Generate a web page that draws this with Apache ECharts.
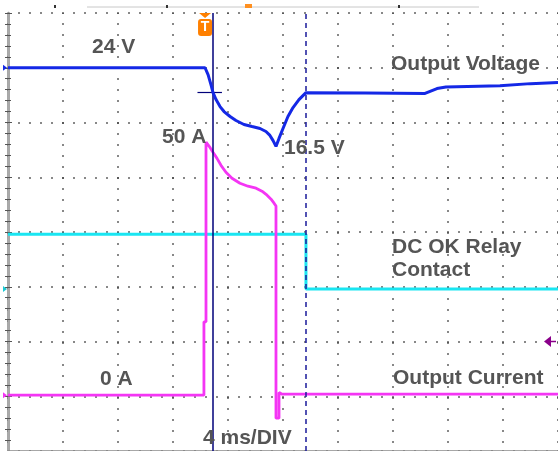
<!DOCTYPE html>
<html>
<head>
<meta charset="utf-8">
<script src="https://cdn.jsdelivr.net/npm/echarts@6/dist/echarts.min.js"></script>
<style>
html,body{margin:0;padding:0;background:#fff;}
#chart{width:558px;height:451px;}
</style>
</head>
<body>
<div id="chart"></div>
<script>
// Time axis: 10 divisions x 4 ms/DIV (ms). Vertical positions in screen divisions (0 = bottom, 8 = top).
const timeTicks = [0, 4, 8, 12, 16, 20, 24, 28, 32, 36, 40];

// Output Voltage trace (blue)
const voltT   = [0, 14.33, 14.55, 14.76, 14.91, 15.13, 15.42, 15.71, 16.15, 16.58, 17.16, 17.75, 18.33, 18.76, 19.05, 19.27, 19.49, 19.71, 20.0, 20.36, 20.73, 21.16, 21.67, 26.0, 30.33, 31.2, 31.85, 35.78, 38.0, 40.0];
const voltDiv = [7.0, 7.0, 6.873, 6.691, 6.545, 6.418, 6.291, 6.2, 6.109, 6.036, 5.964, 5.927, 5.891, 5.836, 5.764, 5.673, 5.564, 5.709, 5.891, 6.109, 6.273, 6.418, 6.545, 6.54, 6.53, 6.62, 6.65, 6.67, 6.71, 6.73];

// Output Current trace (magenta)
const currT   = [0, 14.25, 14.25, 14.40, 14.40, 14.47, 14.69, 14.91, 15.2, 15.49, 15.85, 16.29, 16.87, 17.45, 18.04, 18.47, 18.84, 19.13, 19.35, 19.49, 19.49, 19.71, 19.71, 19.9, 40.0];
const currDiv = [1.02, 1.02, 2.36, 2.36, 5.64, 5.655, 5.545, 5.455, 5.345, 5.218, 5.091, 4.982, 4.891, 4.836, 4.8, 4.745, 4.673, 4.6, 4.527, 4.473, 0.6, 0.6, 1.07, 1.04, 1.04];

// DC OK Relay Contact trace (cyan)
const relayT   = [0, 21.67, 21.67, 40.0];
const relayDiv = [3.96, 3.96, 2.96, 2.96];

// Cursors / markers
const cursorSolidT = 14.91;
const cursorDashT = 21.67;
const triggerT = 14.33;
const cursorLevel = 6.545;
const refLevels = { volt: 7.0, relay: 2.96, curr: 1.02 };
const triggerLevel = 2.0;

// Annotations [text, x, y]
const annotations = [
  ['24 V', 92, 47.5],
  ['Output Voltage', 391, 64.5],
  ['50 A', 162, 137.5],
  ['16.5 V', 284, 148.5],
  ['DC OK Relay', 392, 247.5],
  ['Contact', 392, 270.5],
  ['0 A', 100, 379],
  ['Output Current', 393, 378.5],
  ['4 ms/DIV', 203, 438.5]
];

const pairs = (xs, ys) => xs.map((x, i) => [x, ys[i]]);

const chart = echarts.init(document.getElementById('chart'), null, {renderer: 'canvas'});

const dotted = {color: '#3a3a3a', width: 1.6, type: [1.6, 9.4], dashOffset: 0.8};
const frameColor = '#8a8a8a';

const option = {
  animation: false,
  backgroundColor: '#ffffff',
  grid: {left: 8, top: 13, width: 550, height: 440, containLabel: false},
  xAxis: [
    {type: 'value', min: 0, max: 40, interval: 4, position: 'bottom',
     axisLine: {show: false}, axisTick: {show: false}, axisLabel: {show: false},
     splitLine: {show: true, lineStyle: dotted}},
    {type: 'value', min: 0, max: 40, interval: 4, position: 'top',
     axisLine: {show: true, lineStyle: {color: frameColor, width: 2.5}},
     axisTick: {show: true, inside: true, length: 4, lineStyle: {color: '#555', width: 1}},
     minorTick: {show: true, splitNumber: 5, length: 3, lineStyle: {color: '#555', width: 1}},
     axisLabel: {show: false}, splitLine: {show: false}}
  ],
  yAxis: [
    {type: 'value', min: 0, max: 8, interval: 1, position: 'left',
     axisLine: {show: true, lineStyle: {color: frameColor, width: 2.5}},
     axisTick: {show: true, inside: true, length: 4, lineStyle: {color: '#555', width: 1}},
     minorTick: {show: true, splitNumber: 5, length: 3, lineStyle: {color: '#555', width: 1}},
     axisLabel: {show: false},
     splitLine: {show: true, lineStyle: dotted}},
    {type: 'value', min: 0, max: 8, interval: 1, position: 'right',
     axisLine: {show: true, lineStyle: {color: '#aaaaaa', width: 1}},
     axisTick: {show: true, inside: true, length: 3, lineStyle: {color: '#555', width: 1}},
     minorTick: {show: true, splitNumber: 5, length: 3, lineStyle: {color: '#555', width: 1}},
     axisLabel: {show: false}, splitLine: {show: false}}
  ],
  series: [
    {name: 'DC OK Relay Contact', type: 'line', data: pairs(relayT, relayDiv), showSymbol: false,
     lineStyle: {color: '#19e6f2', width: 3}, z: 3},
    {name: 'Output Current', type: 'line', data: pairs(currT, currDiv), showSymbol: false,
     lineStyle: {color: '#f435f4', width: 2.8}, z: 4},
    {name: 'Output Voltage', type: 'line', data: pairs(voltT, voltDiv), showSymbol: false,
     lineStyle: {color: '#1428e6', width: 3}, z: 5,
     markLine: {silent: true, symbol: 'none', label: {show: false}, animation: false,
       data: [
         {xAxis: cursorSolidT, lineStyle: {color: '#00007a', width: 1.5, type: 'solid'}},
         {xAxis: cursorDashT, lineStyle: {color: '#1a1a9a', width: 1.5, type: [5, 4]}},
         [{coord: [triggerT - 0.55, cursorLevel], lineStyle: {color: '#00007a', width: 1.2, type: 'solid'}},
          {coord: [cursorSolidT + 0.65, cursorLevel]}]
       ]}}
  ]
};
chart.setOption(option);

const px = (t, v) => chart.convertToPixel({xAxisIndex: 0, yAxisIndex: 0}, [t, v]);
const graphics = [];

// Trigger marker "T"
const tx = px(triggerT, 8)[0];
graphics.push({type: 'polygon', shape: {points: [[tx - 6, 13], [tx + 6, 13], [tx, 18]]}, style: {fill: '#ff8000'}, z: 20});
graphics.push({type: 'rect', shape: {x: tx - 7, y: 19, width: 14, height: 17, r: 3}, style: {fill: '#ff8000'}, z: 20});
graphics.push({type: 'text', x: tx, y: 27.5, style: {text: 'T', fill: '#ffffff', font: 'bold 14px "Liberation Sans", Arial, sans-serif', align: 'center', verticalAlign: 'middle'}, z: 21});

// Memory bar above the frame
graphics.push({type: 'line', shape: {x1: 87, y1: 7, x2: 479, y2: 7}, style: {stroke: '#c8c8c8', lineWidth: 1}, z: 5});
[55, 167, 399].forEach(x => graphics.push({type: 'rect', shape: {x: x - 1, y: 5, width: 2, height: 3}, style: {fill: '#333'}, z: 6}));
graphics.push({type: 'rect', shape: {x: 245, y: 4, width: 7, height: 4}, style: {fill: '#ff9020'}, z: 6});

// Channel reference markers on the left
[[refLevels.volt, '#1428e6'], [refLevels.relay, '#19c8d2'], [refLevels.curr, '#f435f4']].forEach(([lvl, c]) => {
  const y = px(0, lvl)[1];
  graphics.push({type: 'polygon', shape: {points: [[3, y - 3], [7, y], [3, y + 3]]}, style: {fill: c}, z: 20});
});

// Trigger level arrow on the right
const ty = px(40, triggerLevel)[1];
graphics.push({type: 'polygon', shape: {points: [[544, ty], [551, ty - 5.5], [551, ty + 5.5]]}, style: {fill: '#8a008a'}, z: 20});
graphics.push({type: 'line', shape: {x1: 550, y1: ty, x2: 556, y2: ty}, style: {stroke: '#8a008a', lineWidth: 1.5}, z: 20});

// Text annotations
annotations.forEach(([txt, x, y]) => graphics.push({
  type: 'text', x: x, y: y, z: 30,
  style: {text: txt, fill: '#555555', font: 'bold 21px "Liberation Sans", Arial, sans-serif', align: 'left', verticalAlign: 'middle'}
}));

chart.setOption({graphic: {elements: graphics}});
</script>
</body>
</html>
